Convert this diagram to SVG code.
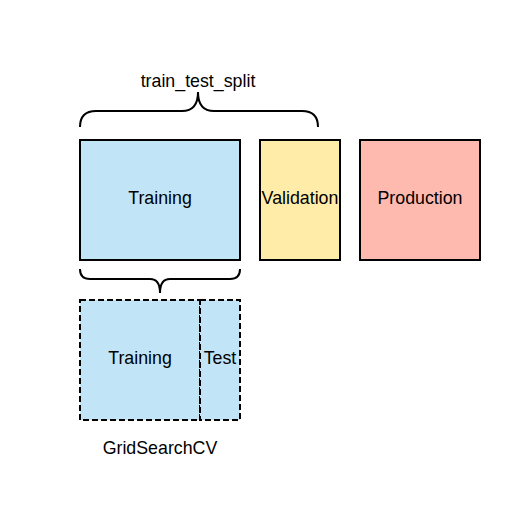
<svg xmlns="http://www.w3.org/2000/svg" width="520" height="520" viewBox="0 0 520 520">
<style>
.box{stroke:#000;stroke-width:2}
.dash{stroke-dasharray:6 3}
.blue{fill:#C1E4F7}
.yellow{fill:#FFECA9}
.red{fill:#FFBAB0}
.brace{fill:none;stroke:#000;stroke-width:2}
text{font-family:"Liberation Sans",Arial,sans-serif;font-size:17.8px;fill:#000;text-anchor:middle;dominant-baseline:central}
</style>
<rect width="520" height="520" fill="#fff"/>
<g id="braces">
<path class="brace" d="M80,127 Q80,111 96,111 L182,111 Q198,111 198,92 Q198,111 214,111 L302,111 Q318,111 318,127"/>
<path class="brace" d="M80,269 Q80,279 90,279 L150,279 Q160,279 160,293 Q160,279 170,279 L230,279 Q240,279 240,269"/>
</g>
<g id="label-split"><text x="198" y="81">train_test_split</text></g>
<g id="training"><rect class="box blue" x="80" y="140" width="160" height="120"/><text x="160" y="198">Training</text></g>
<g id="validation"><rect class="box yellow" x="260" y="140" width="80" height="120"/><text x="300" y="198">Validation</text></g>
<g id="production"><rect class="box red" x="360" y="140" width="120" height="120"/><text x="420" y="198">Production</text></g>
<g id="cv-training"><rect class="box dash blue" x="80" y="300" width="120" height="120"/><text x="140" y="358">Training</text></g>
<g id="cv-test"><rect class="box dash blue" x="200" y="300" width="40" height="120"/><text x="220" y="358">Test</text></g>
<g id="label-cv"><text x="160" y="448">GridSearchCV</text></g>
</svg>
